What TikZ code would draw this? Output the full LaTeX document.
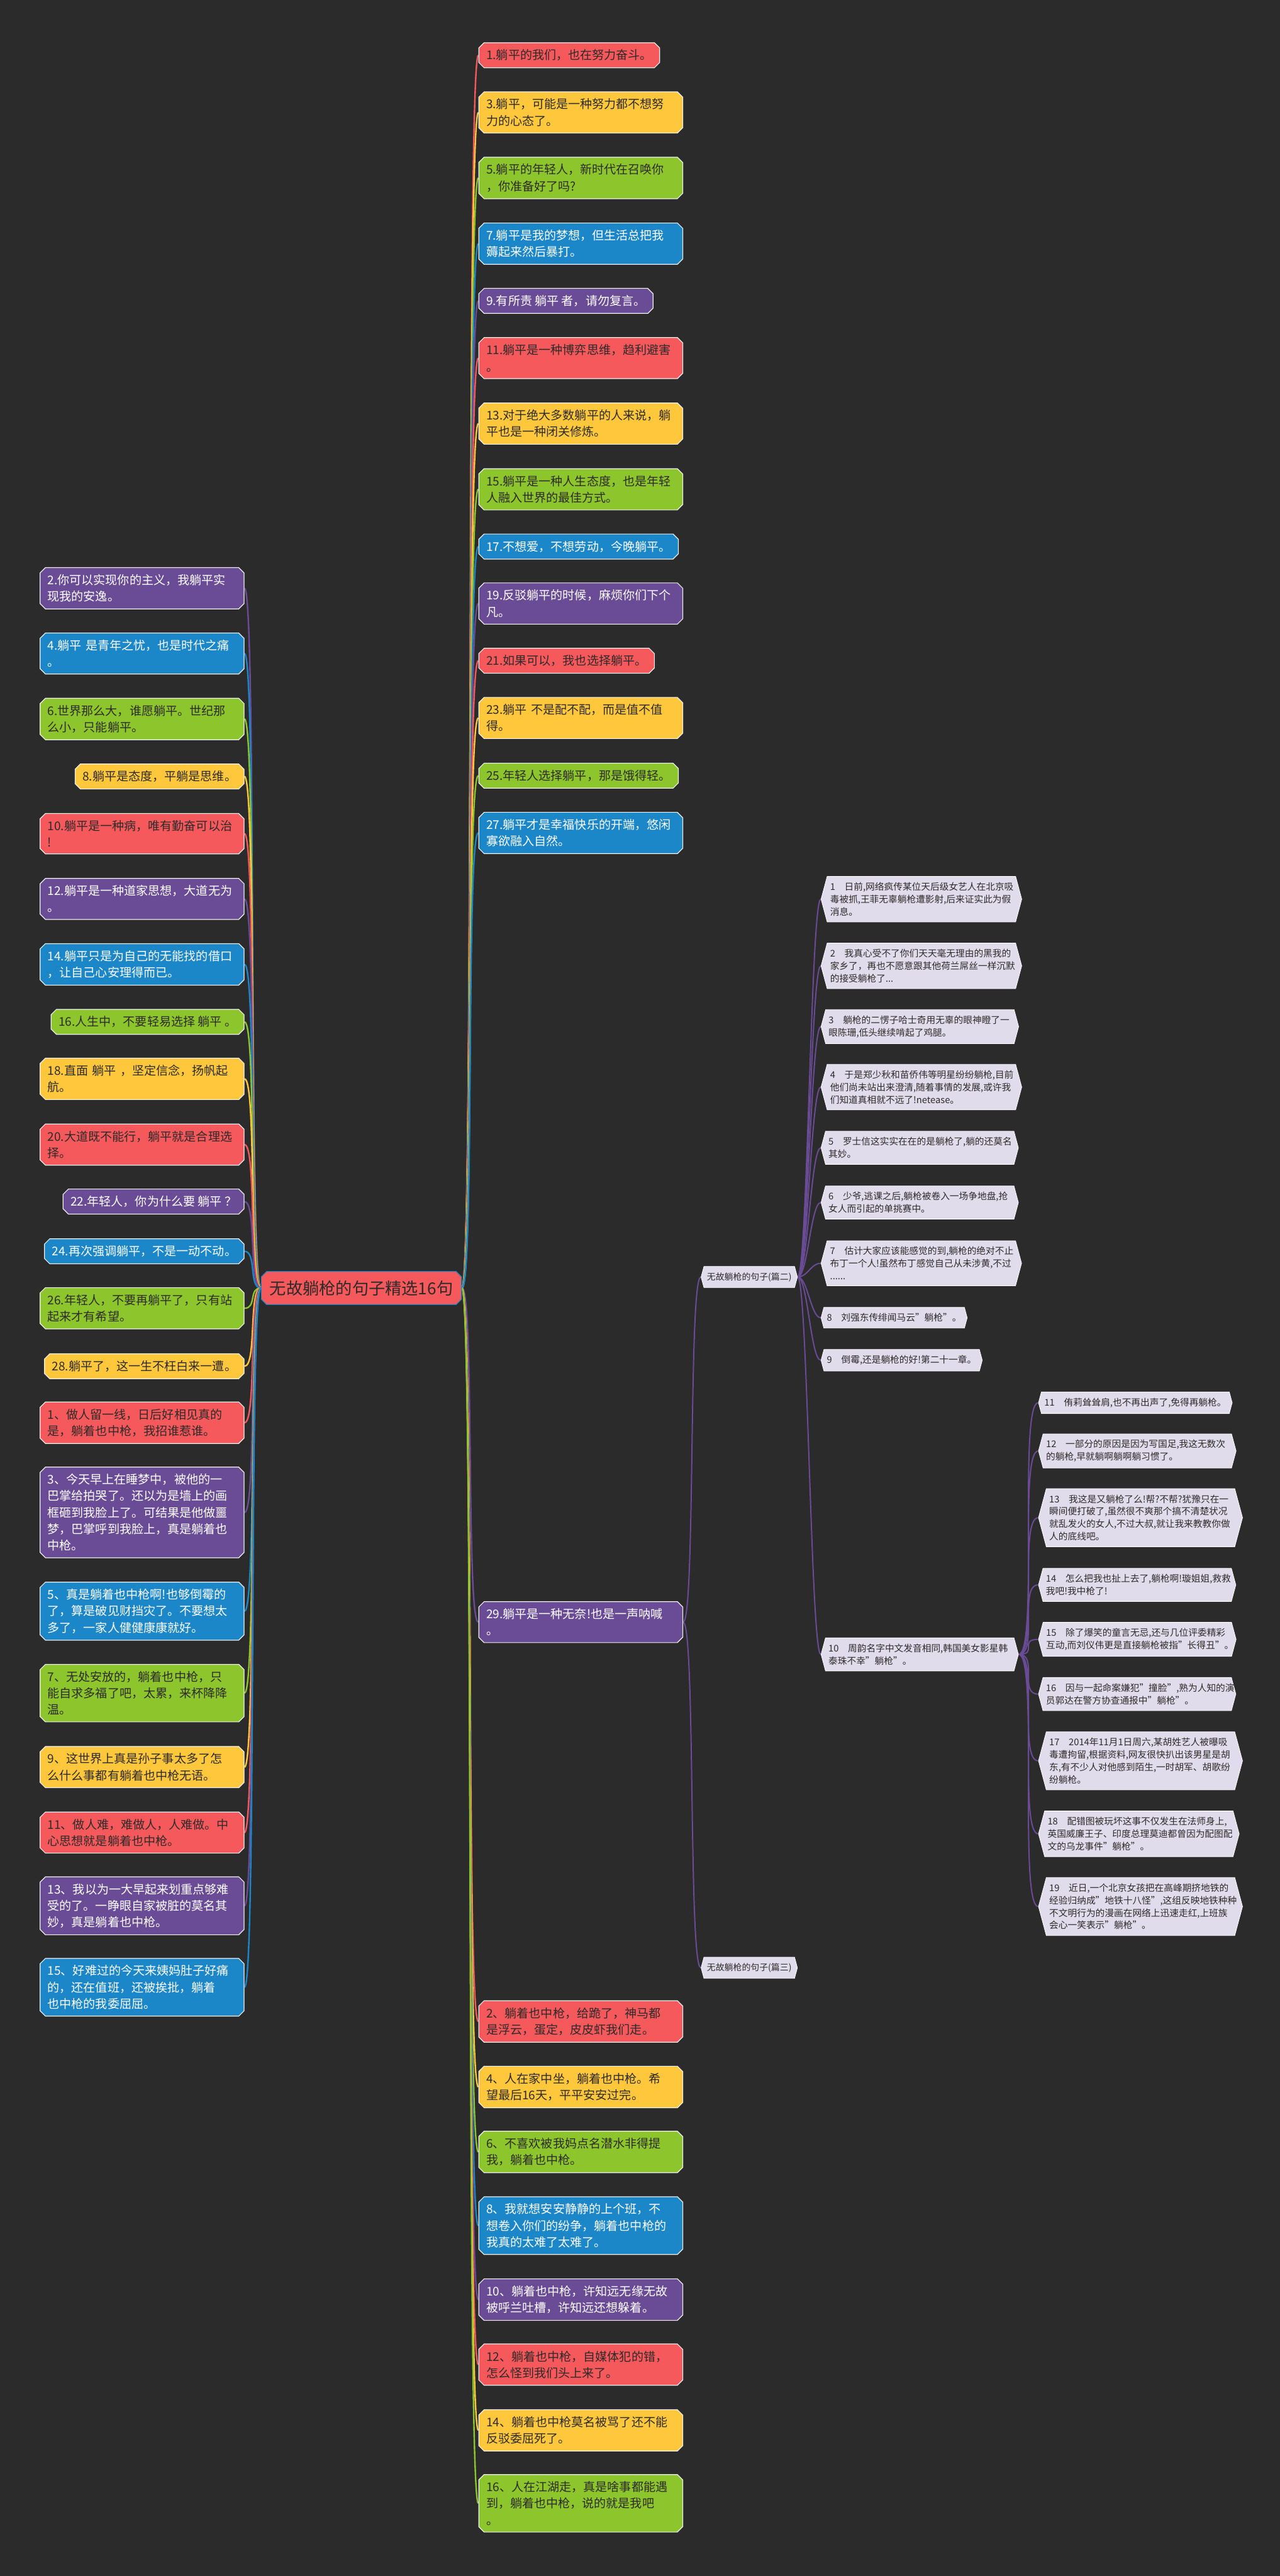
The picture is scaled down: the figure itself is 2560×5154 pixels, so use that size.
\documentclass[tikz,border=0pt]{standalone}
\usepackage{fontspec}
\setmainfont{Noto Sans CJK SC}
\usepackage{tikz}
\usetikzlibrary{shapes.misc,shapes.symbols,backgrounds}

\definecolor{bg}{HTML}{2B2B2B}
\definecolor{mred}{HTML}{F5595C}
\definecolor{myel}{HTML}{FFC83C}
\definecolor{mgrn}{HTML}{8CC62C}
\definecolor{mblu}{HTML}{1B86C8}
\definecolor{mpur}{HTML}{6A4C96}
\definecolor{lav}{HTML}{E1DCEB}
\definecolor{ink}{HTML}{2E2A2A}

\begin{document}
\begin{tikzpicture}[x=1pt,y=-1pt]
      \tikzstyle{topic} = [chamfered rectangle, chamfered rectangle xsep=7pt, draw=white!88!gray, line width=1.5pt, inner xsep=8pt, inner ysep=10pt, align=left, font=\fontsize{24}{33}\selectfont]
      \tikzstyle{wide} = [text width=378pt]
      \tikzstyle{tred} = [topic, fill=mred, text=ink]
      \tikzstyle{tyel} = [topic, fill=myel, text=ink]
      \tikzstyle{tgrn} = [topic, fill=mgrn, text=ink]
      \tikzstyle{tblu} = [topic, fill=mblu, text=white]
      \tikzstyle{tpur} = [topic, fill=mpur, text=white]
      \tikzstyle{leaf} = [signal, signal to=west and east, signal pointer angle=150, fill=lav, draw=white, line width=1pt, text=ink, inner xsep=6pt, inner ysep=12pt, align=left, font=\fontsize{18.5}{25}\selectfont]
      \tikzstyle{lwide} = [text width=365pt]

      \useasboundingbox (0,0) rectangle (2560,5154);

      \node[chamfered rectangle, chamfered rectangle xsep=7pt, fill=mred, draw=mblu, line width=1.5pt, text=ink, inner xsep=10pt, inner ysep=14pt, font=\fontsize{33}{40}\selectfont] (root) at (723,2577) {无故躺枪的句子精选16句};

      % right column
      \node[tred, anchor=west] (r1) at (957,110.5) {1.躺平的我们，也在努力奋斗。};
      \node[tyel, wide, anchor=west] (r3) at (957,225) {3.躺平，可能是一种努力都不想努\\力的心态了。};
      \node[tgrn, wide, anchor=west] (r5) at (957,356) {5.躺平的年轻人，新时代在召唤你\\，你准备好了吗?};
      \node[tblu, wide, anchor=west] (r7) at (957,487.5) {7.躺平是我的梦想，但生活总把我\\薅起来然后暴打。};
      \node[tpur, anchor=west] (r9) at (957,602) {9.有所责 躺平 者，请勿复言。};
      \node[tred, wide, anchor=west] (r11) at (957,716.5) {11.躺平是一种博弈思维，趋利避害\\。};
      \node[tyel, wide, anchor=west] (r13) at (957,847.5) {13.对于绝大多数躺平的人来说，躺\\平也是一种闭关修炼。};
      \node[tgrn, wide, anchor=west] (r15) at (957,979) {15.躺平是一种人生态度，也是年轻\\人融入世界的最佳方式。};
      \node[tblu, anchor=west] (r17) at (957,1093.5) {17.不想爱，不想劳动，今晚躺平。};
      \node[tpur, wide, anchor=west] (r19) at (957,1207.5) {19.反驳躺平的时候，麻烦你们下个\\凡。};
      \node[tred, anchor=west] (r21) at (957,1322) {21.如果可以，我也选择躺平。};
      \node[tyel, wide, anchor=west] (r23) at (957,1436.5) {23.躺平 不是配不配，而是值不值\\得。};
      \node[tgrn, anchor=west] (r25) at (957,1552) {25.年轻人选择躺平，那是饿得轻。};
      \node[tblu, wide, anchor=west] (r27) at (957,1666.5) {27.躺平才是幸福快乐的开端，悠闲\\寡欲融入自然。};
      \node[tpur, wide, anchor=west] (r29) at (957,3245.5) {29.躺平是一种无奈!也是一声呐喊\\。};
      \node[tred, wide, anchor=west] (b2) at (957,4044.5) {2、躺着也中枪，给跪了，神马都\\是浮云，蛋定，皮皮虾我们走。};
      \node[tyel, wide, anchor=west] (b4) at (957,4175.5) {4、人在家中坐，躺着也中枪。希\\望最后16天，平平安安过完。};
      \node[tgrn, wide, anchor=west] (b6) at (957,4305.5) {6、不喜欢被我妈点名潜水非得提\\我，躺着也中枪。};
      \node[tblu, wide, anchor=west] (b8) at (957,4453) {8、我就想安安静静的上个班，不\\想卷入你们的纷争，躺着也中枪的\\我真的太难了太难了。};
      \node[tpur, wide, anchor=west] (b10) at (957,4601) {10、躺着也中枪，许知远无缘无故\\被呼兰吐槽，许知远还想躲着。};
      \node[tred, wide, anchor=west] (b12) at (957,4731) {12、躺着也中枪，自媒体犯的错，\\怎么怪到我们头上来了。};
      \node[tyel, wide, anchor=west] (b14) at (957,4862.5) {14、躺着也中枪莫名被骂了还不能\\反驳委屈死了。};
      \node[tgrn, wide, anchor=west] (b16) at (957,5008.5) {16、人在江湖走，真是啥事都能遇\\到，躺着也中枪，说的就是我吧\\。};

      % left column
      \node[tpur, wide, anchor=east] (l2) at (489,1177) {2.你可以实现你的主义，我躺平实\\现我的安逸。};
      \node[tblu, wide, anchor=east] (l4) at (489,1307.5) {4.躺平 是青年之忧，也是时代之痛\\。};
      \node[tgrn, wide, anchor=east] (l6) at (489,1438.5) {6.世界那么大，谁愿躺平。世纪那\\么小，只能躺平。};
      \node[tyel, anchor=east] (l8) at (489,1553.5) {8.躺平是态度，平躺是思维。};
      \node[tred, wide, anchor=east] (l10) at (489,1668) {10.躺平是一种病，唯有勤奋可以治\\!};
      \node[tpur, wide, anchor=east] (l12) at (489,1798.5) {12.躺平是一种道家思想，大道无为\\。};
      \node[tblu, wide, anchor=east] (l14) at (489,1929.5) {14.躺平只是为自己的无能找的借口\\，让自己心安理得而已。};
      \node[tgrn, anchor=east] (l16) at (489,2044.5) {16.人生中，不要轻易选择 躺平 。};
      \node[tyel, wide, anchor=east] (l18) at (489,2158.5) {18.直面 躺平 ，坚定信念，扬帆起\\航。};
      \node[tred, wide, anchor=east] (l20) at (489,2290) {20.大道既不能行，躺平就是合理选\\择。};
      \node[tpur, anchor=east] (l22) at (489,2404) {22.年轻人，你为什么要 躺平 ？};
      \node[tblu, anchor=east] (l24) at (489,2503.5) {24.再次强调躺平，不是一动不动。};
      \node[tgrn, wide, anchor=east] (l26) at (489,2617.5) {26.年轻人，不要再躺平了，只有站\\起来才有希望。};
      \node[tyel, anchor=east] (l28) at (489,2733.5) {28.躺平了，这一生不枉白来一遭。};
      \node[tred, wide, anchor=east] (s1) at (489,2846.5) {1、做人留一线，日后好相见真的\\是，躺着也中枪，我招谁惹谁。};
      \node[tpur, wide, anchor=east] (s3) at (489,3026) {3、今天早上在睡梦中，被他的一\\巴掌给拍哭了。还以为是墙上的画\\框砸到我脸上了。可结果是他做噩\\梦，巴掌呼到我脸上，真是躺着也\\中枪。};
      \node[tblu, wide, anchor=east] (s5) at (489,3223.5) {5、真是躺着也中枪啊!也够倒霉的\\了，算是破见财挡灾了。不要想太\\多了，一家人健健康康就好。};
      \node[tgrn, wide, anchor=east] (s7) at (489,3387.5) {7、无处安放的，躺着也中枪，只\\能自求多福了吧，太累，来杯降降\\温。};
      \node[tyel, wide, anchor=east] (s9) at (489,3535.5) {9、这世界上真是孙子事太多了怎\\么什么事都有躺着也中枪无语。};
      \node[tred, wide, anchor=east] (s11) at (489,3666.5) {11、做人难，难做人，人难做。中\\心思想就是躺着也中枪。};
      \node[tpur, wide, anchor=east] (s13) at (489,3813) {13、我以为一大早起来划重点够难\\受的了。一睁眼自家被脏的莫名其\\妙，真是躺着也中枪。};
      \node[tblu, wide, anchor=east] (s15) at (489,3976) {15、好难过的今天来姨妈肚子好痛\\的，还在值班，还被挨批，躺着\\也中枪的我委屈屈。};

      % second level
      \node[leaf, font=\fontsize{17.5}{22}\selectfont, inner ysep=12pt, anchor=west] (p2) at (1402,2555) {无故躺枪的句子(篇二)};
      \node[leaf, font=\fontsize{17.5}{22}\selectfont, inner ysep=12pt, anchor=west] (p3) at (1402,3937) {无故躺枪的句子(篇三)};

      \node[leaf, lwide, anchor=west] (c1) at (1642,1799) {1　日前,网络疯传某位天后级女艺人在北京吸\\毒被抓,王菲无辜躺枪遭影射,后来证实此为假\\消息。};
      \node[leaf, lwide, anchor=west] (c2) at (1642,1932.5) {2　我真心受不了你们天天毫无理由的黑我的\\家乡了，再也不愿意跟其他荷兰屌丝一样沉默\\的接受躺枪了...};
      \node[leaf, lwide, anchor=west] (c3) at (1642,2054) {3　躺枪的二愣子哈士奇用无辜的眼神瞪了一\\眼陈珊,低头继续啃起了鸡腿。};
      \node[leaf, lwide, anchor=west] (c4) at (1642,2175) {4　于是郑少秋和苗侨伟等明星纷纷躺枪,目前\\他们尚未站出来澄清,随着事情的发展,或许我\\们知道真相就不远了!netease。};
      \node[leaf, lwide, anchor=west] (c5) at (1642,2296.5) {5　罗士信这实实在在的是躺枪了,躺的还莫名\\其妙。};
      \node[leaf, lwide, anchor=west] (c6) at (1642,2406) {6　少爷,逃课之后,躺枪被卷入一场争地盘,抢\\女人而引起的单挑赛中。};
      \node[leaf, lwide, anchor=west] (c7) at (1642,2527.5) {7　估计大家应该能感觉的到,躺枪的绝对不止\\布丁一个人!虽然布丁感觉自己从未涉黄,不过\\......};
      \node[leaf, anchor=west] (c8) at (1642,2636.5) {8　刘强东传绯闻马云"躺枪"。};
      \node[leaf, anchor=west] (c9) at (1642,2721.5) {9　倒霉,还是躺枪的好!第二十一章。};
      \node[leaf, lwide, anchor=west] (c10) at (1642,3310) {10　周韵名字中文发音相同,韩国美女影星韩\\泰珠不幸"躺枪"。};

      \node[leaf, anchor=west] (c11) at (2077,2806.5) {11　侑莉耸耸肩,也不再出声了,免得再躺枪。};
      \node[leaf, lwide, anchor=west] (c12) at (2077,2903) {12　一部分的原因是因为写国足,我这无数次\\的躺枪,早就躺啊躺啊躺习惯了。};
      \node[leaf, lwide, anchor=west] (c13) at (2077,3036.5) {13　我这是又躺枪了么!帮?不帮?犹豫只在一\\瞬间便打破了,虽然很不爽那个搞不清楚状况\\就乱发火的女人,不过大叔,就让我来教教你做\\人的底线吧。};
      \node[leaf, lwide, anchor=west] (c14) at (2077,3171) {14　怎么把我也扯上去了,躺枪啊!璇姐姐,救救\\我吧!我中枪了!};
      \node[leaf, lwide, anchor=west] (c15) at (2077,3280) {15　除了爆笑的童言无忌,还与几位评委精彩\\互动,而刘仪伟更是直接躺枪被指"长得丑"。};
      \node[leaf, lwide, anchor=west] (c16) at (2077,3389.5) {16　因与一起命案嫌犯"撞脸",熟为人知的演\\员郭达在警方协查通报中"躺枪"。};
      \node[leaf, lwide, anchor=west] (c17) at (2077,3523) {17　2014年11月1日周六,某胡姓艺人被曝吸\\毒遭拘留,根据资料,网友很快扒出该男星是胡\\东,有不少人对他感到陌生,一时胡军、胡歌纷\\纷躺枪。};
      \node[leaf, lwide, anchor=west] (c18) at (2077,3669) {18　配错图被玩坏这事不仅发生在法师身上,\\英国威廉王子、印度总理莫迪都曾因为配图配\\文的乌龙事件"躺枪"。};
      \node[leaf, lwide, anchor=west] (c19) at (2077,3814.5) {19　近日,一个北京女孩把在高峰期挤地铁的\\经验归纳成"地铁十八怪",这组反映地铁种种\\不文明行为的漫画在网络上迅速走红,上班族\\会心一笑表示"躺枪"。};

      % connections
      \begin{scope}[on background layer]
        \fill[bg] (0,0) rectangle (2560,5154);
        \foreach \nm/\col in {l2/mpur, l4/mblu, l6/mgrn, l8/myel, l10/mred, l12/mpur, l14/mblu, l16/mgrn, l18/myel, l20/mred, l22/mpur, l24/mblu, l26/mgrn, l28/myel, s1/mred, s3/mpur, s5/mblu, s7/mgrn, s9/myel, s11/mred, s13/mpur, s15/mblu}
          \draw[draw=\col, line width=3pt] (root.west) .. controls +(-25,0) and +(25,0) .. (\nm.east);
        \foreach \nm/\col in {r1/mred, r3/myel, r5/mgrn, r7/mblu, r9/mpur, r11/mred, r13/myel, r15/mgrn, r17/mblu, r19/mpur, r21/mred, r23/myel, r25/mgrn, r27/mblu, r29/mpur, b2/mred, b4/myel, b6/mgrn, b8/mblu, b10/mpur, b12/mred, b14/myel, b16/mgrn}
          \draw[draw=\col, line width=3pt] (root.east) .. controls +(25,0) and +(-25,0) .. (\nm.west);
        \draw[mpur, line width=2.5pt] (r29.east) .. controls +(25,0) and +(-25,0) .. (p2.west);
        \draw[mpur, line width=2.5pt] (r29.east) .. controls +(25,0) and +(-25,0) .. (p3.west);
        \foreach \nm in {c1,c2,c3,c4,c5,c6,c7,c8,c9,c10}
          \draw[mpur, line width=2.5pt] (p2.east) .. controls +(20,0) and +(-20,0) .. (\nm.west);
        \foreach \nm in {c11,c12,c13,c14,c15,c16,c17,c18,c19}
          \draw[mpur, line width=2.5pt] (c10.east) .. controls +(40,0) and +(-40,0) .. (\nm.west);
      \end{scope}
\end{tikzpicture}
\end{document}
